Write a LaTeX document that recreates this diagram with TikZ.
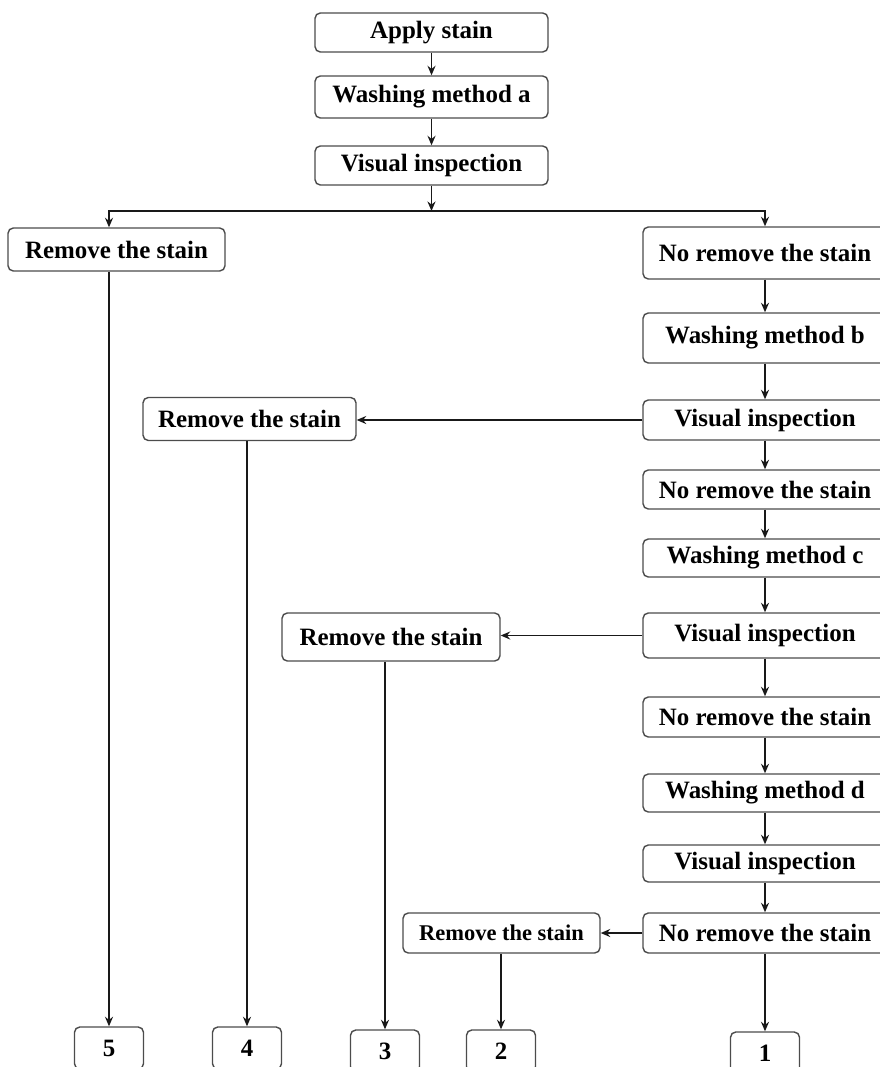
\documentclass[tikz,border=0pt]{standalone}
\usepackage{fontspec}
\setmainfont{Liberation Serif}
\usetikzlibrary{arrows.meta, positioning, calc}

\begin{document}
\begin{tikzpicture}[
    x=0.02cm, y=-0.02cm,
    font=\bfseries\fontsize{14.2}{17}\selectfont,
    stepbox/.style={
        rectangle, rounded corners=3pt, draw=black!70, line width=0.8pt,
        fill=white, inner sep=2pt, align=center
    },
    topbox/.style={stepbox, minimum width=4.66cm, minimum height=#1},
    colbox/.style={stepbox, minimum width=4.88cm, minimum height=#1},
    removebox/.style={stepbox, minimum width=#1, minimum height=0.86cm},
    numbox/.style={stepbox, minimum width=1.38cm, minimum height=0.84cm},
    arrow/.style={-{Stealth[length=1.9mm, width=1.6mm]}, line width=1pt, draw=black!90}
]
\useasboundingbox (0,0) rectangle (879,1067);

% Top chain
\node[topbox=0.78cm] (apply) at (431.5,32.5)  {Apply stain};
\node[topbox=0.84cm] (washa) at (431.5,97)    {Washing method a};
\node[topbox=0.78cm] (visa)  at (431.5,165.5) {Visual inspection};
\coordinate (split) at (431.5,211);

% Right column
\node[colbox=1.04cm] (nr1) at (765,253)   {No remove the stain};
\node[colbox=1.0cm]  (wmb) at (765,338)   {Washing method b};
\node[colbox=0.8cm]  (vib) at (765,420)   {Visual inspection};
\node[colbox=0.78cm] (nr2) at (765,489.5) {No remove the stain};
\node[colbox=0.76cm] (wmc) at (765,558)   {Washing method c};
\node[colbox=0.9cm]  (vic) at (765,635.5) {Visual inspection};
\node[colbox=0.8cm]  (nr3) at (765,717)   {No remove the stain};
\node[colbox=0.76cm] (wmd) at (765,793)   {Washing method d};
\node[colbox=0.74cm] (vid) at (765,863.5) {Visual inspection};
\node[colbox=0.8cm]  (nr4) at (765,933)   {No remove the stain};

% Removed branches
\node[removebox=4.34cm] (rem5) at (116.5,249.5) {Remove the stain};
\node[removebox=4.26cm] (rem4) at (249.5,419)   {Remove the stain};
\node[removebox=4.36cm, minimum height=0.96cm] (rem3) at (391,637) {Remove the stain};
\node[removebox=3.94cm, minimum height=0.8cm,
      font=\bfseries\fontsize{12.8}{15}\selectfont] (rem2) at (501.5,933) {Remove the stain};

% Result boxes
\node[numbox] (b5) at (109,1048) {5};
\node[numbox] (b4) at (247,1048) {4};
\node[numbox] (b3) at (385,1051) {3};
\node[numbox] (b2) at (501,1051) {2};
\node[numbox] (b1) at (765,1053) {1};

% Arrows
\draw[arrow] (apply) -- (washa);
\draw[arrow] (washa) -- (visa);
\draw[arrow] (visa) -- (split);
\draw[arrow] (split) -| (b5 |- rem5.north);
\draw[arrow] (split) -| (nr1);
\draw[arrow] (nr1) -- (wmb);
\draw[arrow] (wmb) -- (vib);
\draw[arrow] (vib) -- (nr2);
\draw[arrow] (nr2) -- (wmc);
\draw[arrow] (wmc) -- (vic);
\draw[arrow] (vic) -- (nr3);
\draw[arrow] (nr3) -- (wmd);
\draw[arrow] (wmd) -- (vid);
\draw[arrow] (vid) -- (nr4);
\draw[arrow] (nr4) -- (b1);
\draw[arrow] (vib.west) -- (rem4.east |- vib.west);
\draw[arrow] (vic.west) -- (rem3.east |- vic.west);
\draw[arrow] (nr4.west) -- (rem2.east |- nr4.west);
\draw[arrow] (rem5.south -| b5) -- (b5);
\draw[arrow] (rem4.south -| b4) -- (b4);
\draw[arrow] (rem3.south -| b3) -- (b3);
\draw[arrow] (rem2.south -| b2) -- (b2);

\end{tikzpicture}
\end{document}
